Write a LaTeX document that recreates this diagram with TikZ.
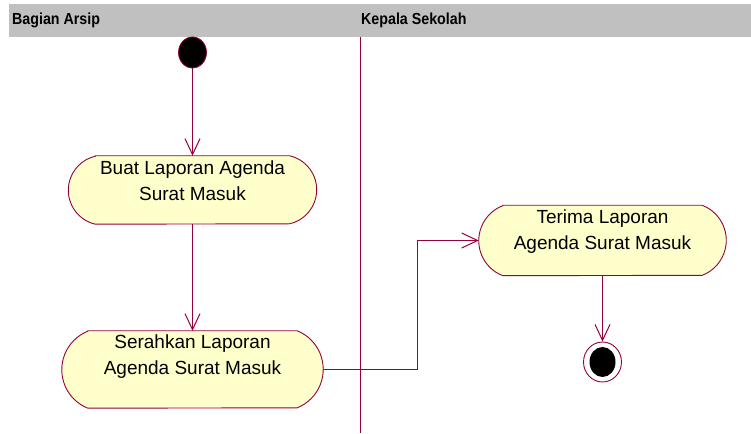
\documentclass[tikz,border=0pt]{standalone}
\usepackage{fontspec}
\setmainfont{Liberation Sans}
\newfontfamily\lanefont{Liberation Sans}[FakeStretch=0.89]
\usetikzlibrary{arrows.meta,calc,shapes.geometric}

\definecolor{rosered}{RGB}{150,0,60}
\definecolor{actfill}{RGB}{255,255,204}
\definecolor{lanegray}{RGB}{192,192,192}

% Activity outline around a rectangular node: flat top and bottom,
% circular end caps. #1 node, #2 cap depth, #3 cap radius, #4 cap half-angle
\newcommand{\actionoutline}[4]{%
  \draw[actbox] ($(#1.north west)+(#2,0)$) -- ($(#1.north east)+(-#2,0)$)
    arc[start angle=#4, end angle=-#4, radius=#3]
    -- ($(#1.south west)+(#2,0)$)
    arc[start angle=180+#4, end angle=180-#4, radius=#3] -- cycle;}

\begin{document}
\begin{tikzpicture}[x=1pt,y=1pt,
  flow/.style={draw=rosered, line width=1pt,
    -{Straight Barb[length=16pt,width=15pt,line width=1pt]}},
  actbox/.style={draw=rosered, line width=0.9pt, fill=actfill},
  actarea/.style={rectangle, inner sep=0pt},
  acttext/.style={font=\fontsize{19}{26}\selectfont, align=center, inner sep=0pt},
  lanetitle/.style={font=\lanefont\fontsize{16}{18}\selectfont\bfseries,
    anchor=base west, inner sep=0pt}]

\useasboundingbox (0,0) rectangle (751,433);

% swimlane header and divider
\fill[lanegray] (9,396) rectangle (751,428.5);
\node[lanetitle] (laneA) at (12,408) {Bagian Arsip};
\node[lanetitle] (laneB) at (361,408) {Kepala Sekolah};
\draw[rosered, line width=0.9pt] (360,396) -- (360,0);

% activity areas
\node[actarea, minimum width=248, minimum height=68] (a1) at (192.5,243) {};
\node[actarea, minimum width=261, minimum height=77] (a2) at (192.5,63.5) {};
\node[actarea, minimum width=247, minimum height=70] (a3) at (602.5,192.5) {};

\actionoutline{a1}{27}{34.91}{76.9}
\actionoutline{a2}{26}{41.5}{68.1}
\actionoutline{a3}{24}{37.5}{69.0}

\node[acttext] (t1) at (192.5,250.7) {\strut Buat Laporan Agenda\\\strut Surat Masuk};
\node[acttext] (t2) at (192.5,76.7) {\strut Serahkan Laporan\\\strut Agenda Surat Masuk};
\node[acttext] (t3) at (602.5,201.2) {\strut Terima Laporan\\\strut Agenda Surat Masuk};

% initial and final states
\node[ellipse, fill=black, draw=rosered, line width=0.8pt,
  minimum width=28, minimum height=31, inner sep=0pt] (s) at (192.5,380.5) {};
\node[ellipse, fill=white, draw=rosered, line width=0.9pt,
  minimum width=38, minimum height=40, inner sep=0pt] (f) at (602.5,71) {};
\node[ellipse, fill=black, minimum width=26, minimum height=30,
  inner sep=0pt] (fi) at (f) {};

% control flow
\coordinate (j) at (417,0);
\draw[flow] (s) -- (a1.north);
\draw[flow] (a1.south) -- (a2.north);
\draw[flow] (a2.east) -- (a2.east -| j) |- (a3.west);
\draw[flow] (a3.south) -- (f);
\end{tikzpicture}
\end{document}
